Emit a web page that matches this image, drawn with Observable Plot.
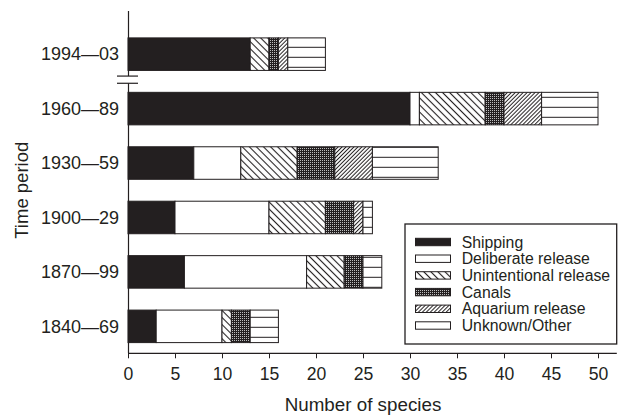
<!DOCTYPE html>
<html>
<head>
<meta charset="utf-8">
<script src="https://cdn.jsdelivr.net/npm/d3@7"></script>
<script src="https://cdn.jsdelivr.net/npm/@observablehq/plot@0.6"></script>
<style>
  html, body { margin: 0; padding: 0; background: #fff; }
  #chart svg { display: block; }
</style>
</head>
<body>
<div id="chart"></div>
<script>
// ---- data ----
const periods = ["1994—03", "1960—89", "1930—59", "1900—29", "1870—99", "1840—69"];
const categories = ["Shipping", "Deliberate release", "Unintentional release", "Canals", "Aquarium release", "Unknown/Other"];
const shipping      = [13, 30, 7,  5,  6, 3];
const deliberate    = [0,  1,  5, 10, 13, 7];
const unintentional = [2,  7,  6,  6,  4, 1];
const canals        = [1,  2,  4,  3,  2, 2];
const aquarium      = [1,  4,  4,  1,  0, 0];
const unknown       = [4,  6,  7,  1,  2, 3];
const xTicks = [0, 5, 10, 15, 20, 25, 30, 35, 40, 45, 50];
const xTitle = "Number of species";
const yTitle = "Time period";

const series = [shipping, deliberate, unintentional, canals, aquarium, unknown];
const fills = ["#231f20", "#ffffff", "url(#p-unint)", "url(#p-canals)", "url(#p-aqua)", "url(#p-unknown)"];
const legendFills = ["#231f20", "#ffffff", "url(#p-unint)", "url(#p-canals)", "url(#p-aqua)", "#ffffff"];

const data = [];
periods.forEach((p, i) => series.forEach((s, j) => {
  if (s[i] > 0) data.push({period: p, category: categories[j], value: s[i], fill: fills[j]});
}));

const ink = "#231f20";
const W = 620, H = 419;
const mL = 128, mR = 3.2, mT = 11, mB = 65.7;

const chart = Plot.plot({
  width: W, height: H,
  marginLeft: mL, marginRight: mR, marginTop: mT, marginBottom: mB,
  style: {fontFamily: "'Liberation Sans', Arial, sans-serif", fontSize: "18px", color: ink, background: "#fff", overflow: "visible"},
  x: {domain: [0, 52]},
  y: {domain: periods, range: [37.9, 342.6], paddingInner: 0.4026, paddingOuter: 0, round: false},
  color: {type: "identity"},
  marks: [
    Plot.barX(data, Plot.stackX({x: "value", y: "period", fill: "fill", stroke: ink, strokeWidth: 1})),
    Plot.axisX({ticks: xTicks, tickSize: 5, tickPadding: 8.5, label: null, stroke: ink, fill: ink, fontSize: 17.6}),
    Plot.axisY({tickSize: 0, tickPadding: 9.5, label: null, fill: ink, fontSize: 18}),
    Plot.ruleX([0], {stroke: ink, strokeWidth: 1.2})
  ]
});

document.getElementById("chart").appendChild(chart);

const svg = d3.select(chart);
const defs = svg.insert("defs", ":first-child");

// diagonal \\\ (unintentional)
const pu = defs.append("pattern").attr("id", "p-unint").attr("patternUnits", "userSpaceOnUse")
  .attr("width", 5).attr("height", 5).attr("patternTransform", "rotate(-45)");
pu.append("rect").attr("width", 5).attr("height", 5).attr("fill", "#fff");
pu.append("line").attr("x1", 2.5).attr("x2", 2.5).attr("y1", 0).attr("y2", 5).attr("stroke", ink).attr("stroke-width", 1.1);

// diagonal /// (aquarium), denser
const pa = defs.append("pattern").attr("id", "p-aqua").attr("patternUnits", "userSpaceOnUse")
  .attr("width", 2.8).attr("height", 2.8).attr("patternTransform", "rotate(45)");
pa.append("rect").attr("width", 2.8).attr("height", 2.8).attr("fill", "#fff");
pa.append("line").attr("x1", 1.4).attr("x2", 1.4).attr("y1", 0).attr("y2", 2.8).attr("stroke", ink).attr("stroke-width", 1);

// stipple (canals)
const pc = defs.append("pattern").attr("id", "p-canals").attr("patternUnits", "userSpaceOnUse")
  .attr("width", 2).attr("height", 2);
pc.append("rect").attr("width", 2).attr("height", 2).attr("fill", "#231f20");
pc.append("rect").attr("width", 1).attr("height", 1).attr("fill", "#bdbdbd");

// horizontal lines (unknown/other)
const pk = defs.append("pattern").attr("id", "p-unknown").attr("patternUnits", "userSpaceOnUse")
  .attr("width", 10).attr("height", 10);
pk.append("rect").attr("width", 10).attr("height", 10).attr("fill", "#fff");
pk.append("line").attr("x1", 0).attr("x2", 10).attr("y1", 7.3).attr("y2", 7.3).attr("stroke", ink).attr("stroke-width", 1);

const xs = chart.scale("x");
const ys = chart.scale("y");
const axisY = H - mB;

// x axis line
svg.append("line").attr("x1", xs.range[0]).attr("x2", xs.range[1])
  .attr("y1", axisY).attr("y2", axisY).attr("stroke", ink).attr("stroke-width", 1.2);

// axis break between first and second period
const b0 = ys.apply(periods[0]) + ys.bandwidth;
const b1 = ys.apply(periods[1]);
const mid = (b0 + b1) / 2 - 1.7;
const x0 = xs.apply(0);
svg.append("rect").attr("x", x0 - 3).attr("y", mid - 3.6).attr("width", 6).attr("height", 7.2).attr("fill", "#fff");
[mid - 3.6, mid + 3.6].forEach(yy => svg.append("line")
  .attr("x1", x0 - 11).attr("x2", x0 + 10).attr("y1", yy).attr("y2", yy)
  .attr("stroke", ink).attr("stroke-width", 1.2));

// axis titles
svg.append("text").attr("x", xs.apply(25)).attr("y", 411).attr("text-anchor", "middle")
  .attr("font-size", 18.8).attr("fill", ink).text(xTitle);
svg.append("text").attr("transform", `translate(28,${(ys.range[0] + ys.range[1]) / 2}) rotate(-90)`)
  .attr("text-anchor", "middle").attr("font-size", 18.5).attr("fill", ink).text(yTitle);

// legend
const lg = svg.append("g");
lg.append("rect").attr("x", 405).attr("y", 224).attr("width", 211.7).attr("height", 120)
  .attr("fill", "#fff").attr("stroke", ink).attr("stroke-width", 1.3);
categories.forEach((c, i) => {
  const cy = 242 + i * 16.7;
  lg.append("rect").attr("x", 415.5).attr("y", cy - 3.7).attr("width", 35).attr("height", 7.4)
    .attr("fill", legendFills[i]).attr("stroke", ink).attr("stroke-width", 1);
  lg.append("text").attr("x", 461.7).attr("y", cy + 5.6).attr("text-anchor", "start")
    .attr("font-size", 15.8).attr("fill", ink).text(c);
});
</script>
</body>
</html>
